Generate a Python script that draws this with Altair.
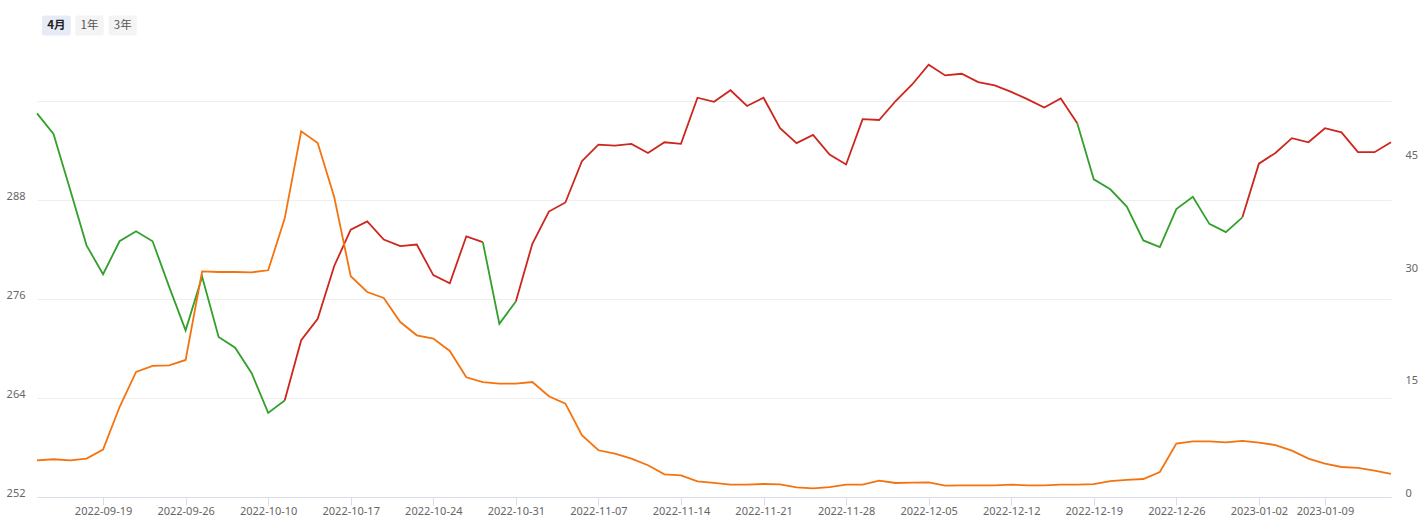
import altair as alt
import pandas as pd

# ---- data ----
holidays = ["2022-10-03", "2022-10-04", "2022-10-05", "2022-10-06", "2022-10-07", "2023-01-02"]
dates = [d.strftime("%Y-%m-%d") for d in pd.bdate_range("2022-09-13", "2023-01-13")
         if d.strftime("%Y-%m-%d") not in holidays]

price = [298.5, 296.0, 289.3, 282.5, 279.0, 283.0, 284.2, 283.0, 277.5, 272.2,
         278.7, 271.4, 270.1, 267.0, 262.2, 263.7, 271.0, 273.6, 280.0, 284.4,
         285.4, 283.2, 282.4, 282.6, 278.9, 277.9, 283.6, 282.9, 273.0, 275.7,
         282.7, 286.6, 287.7, 292.7, 294.7, 294.6, 294.8, 293.7, 295.0, 294.8,
         300.4, 299.9, 301.3, 299.4, 300.4, 296.7, 294.9, 295.9, 293.5, 292.3,
         297.8, 297.7, 300.0, 302.0, 304.4, 303.1, 303.3, 302.3, 301.9, 301.1,
         300.2, 299.2, 300.3, 297.3, 290.5, 289.3, 287.2, 283.1, 282.3, 286.9,
         288.4, 285.1, 284.1, 285.9, 292.4, 293.7, 295.5, 295.0, 296.7, 296.2,
         293.8, 293.8, 295.0]

ratio = [4.89, 5.03, 4.89, 5.12, 6.32, 12.0, 16.67, 17.47, 17.56, 18.27,
         30.09, 30.0, 30.0, 29.96, 30.23, 37.12, 48.76, 47.2, 40.0, 29.43,
         27.33, 26.53, 23.33, 21.56, 21.12, 19.47, 15.96, 15.33, 15.12, 15.12,
         15.33, 13.43, 12.45, 8.23, 6.23, 5.79, 5.12, 4.23, 3.03, 2.89,
         2.09, 1.87, 1.65, 1.65, 1.73, 1.69, 1.29, 1.16, 1.33, 1.65,
         1.65, 2.19, 1.87, 1.92, 1.96, 1.52, 1.56, 1.56, 1.56, 1.65,
         1.56, 1.56, 1.65, 1.65, 1.73, 2.13, 2.27, 2.4, 3.33, 7.12,
         7.43, 7.43, 7.29, 7.47, 7.25, 6.93, 6.19, 5.12, 4.45, 4.0,
         3.87, 3.52, 3.07]

# colored segments of the price line: (start index, end index, trend)
segments = [(0, 15, "down"), (15, 27, "up"), (27, 29, "down"),
            (29, 63, "up"), (63, 73, "down"), (73, 82, "up")]

tick_dates = ["2022-09-19", "2022-09-26", "2022-10-10", "2022-10-17", "2022-10-24",
              "2022-10-31", "2022-11-07", "2022-11-14", "2022-11-21", "2022-11-28",
              "2022-12-05", "2022-12-12", "2022-12-19", "2022-12-26", "2023-01-03",
              "2023-01-09"]
tick_labels = ["2022-09-19", "2022-09-26", "2022-10-10", "2022-10-17", "2022-10-24",
               "2022-10-31", "2022-11-07", "2022-11-14", "2022-11-21", "2022-11-28",
               "2022-12-05", "2022-12-12", "2022-12-19", "2022-12-26", "2023-01-02",
               "2023-01-09"]

left_ticks = [252, 264, 276, 288, 300]
right_ticks = [0, 15, 30, 45]

buttons = ["4月", "1年", "3年"]

RED = "#cc261e"
GREEN = "#33a02c"
ORANGE = "#f5730f"
LABEL = "#666666"
FONT = "Noto Sans"

rows = []
for k, (s, e, trend) in enumerate(segments):
    for i in range(s, e + 1):
        rows.append({"date": dates[i], "price": price[i], "seg": k, "trend": trend})
seg_df = pd.DataFrame(rows)
ratio_df = pd.DataFrame({"date": dates, "ratio": ratio})

label_map = "{" + ",".join(f"'{d}':'{l}'" for d, l in zip(tick_dates, tick_labels)) + "}"

x_enc = alt.X(
    "date:O",
    scale=alt.Scale(type="point", padding=0, domain=dates),
    axis=alt.Axis(
        values=tick_dates, title=None, labelAngle=0, labelColor=LABEL, labelFontSize=11,
        labelFont=FONT, domainColor="#d8dde9", tickColor="#d8dde9", tickSize=8,
        labelPadding=0, grid=False, labelExpr=f"{label_map}[datum.value]",
    ),
)

price_line = alt.Chart(seg_df).mark_line(strokeWidth=1.8, clip=False).encode(
    x=x_enc,
    y=alt.Y(
        "price:Q",
        scale=alt.Scale(domain=[252, 300], nice=False, zero=False),
        axis=alt.Axis(
            values=left_ticks, title=None, orient="left", domain=False, ticks=False,
            labelColor=LABEL, labelFontSize=11, labelFont=FONT, labelPadding=12,
            labelBaseline="alphabetic", labelOffset=-1, gridColor="#eeeeee", gridWidth=1,
            labelExpr="datum.value == 300 ? '' : datum.label",
        ),
    ),
    color=alt.Color("trend:N", scale=alt.Scale(domain=["up", "down"], range=[RED, GREEN]),
                    legend=None),
    detail="seg:N",
)

ratio_line = alt.Chart(ratio_df).mark_line(strokeWidth=1.8, color=ORANGE, clip=False).encode(
    x=x_enc,
    y=alt.Y(
        "ratio:Q",
        scale=alt.Scale(domain=[0, 52.8], nice=False),
        axis=alt.Axis(
            values=right_ticks, title=None, orient="right", domain=False, ticks=False,
            grid=False, labelColor=LABEL, labelFontSize=11, labelFont=FONT,
            labelPadding=14, labelBaseline="alphabetic", labelOffset=-1,
        ),
    ),
)

# range selector buttons (top-left)
btn_layers = []
btn_x = [(5, 33.7), (38.3, 66.7), (71.7, 99.7)]
for (x0, x1), lab in zip(btn_x, buttons):
    first = lab == buttons[0]
    rect = alt.Chart(pd.DataFrame({"t": [lab]})).mark_rect(
        color="#e6ebf6" if first else "#f4f4f4", cornerRadius=2
    ).encode(x=alt.value(x0), x2=alt.value(x1), y=alt.value(-85.5), y2=alt.value(-65.5))
    txt = alt.Chart(pd.DataFrame({"t": [lab]})).mark_text(
        font="Noto Sans CJK SC", fontSize=11.5, fontWeight="bold" if first else "normal",
        color="#222222" if first else "#555555", align="center", baseline="middle",
    ).encode(x=alt.value((x0 + x1) / 2), y=alt.value(-75.5), text="t:N")
    btn_layers += [rect, txt]

chart = alt.layer(price_line, ratio_line, *btn_layers).resolve_scale(
    y="independent", color="independent"
).properties(
    width=1354, height=396,
    autosize=alt.AutoSizeParams(type="none"),
    padding={"left": 37, "top": 101, "right": 35, "bottom": 30},
    background="white",
).configure_view(stroke=None)

chart.save("out.html", embed_options={"renderer": "svg", "actions": False})
